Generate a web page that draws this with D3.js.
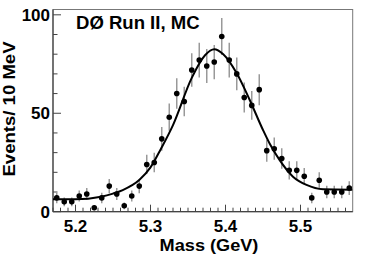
<!DOCTYPE html>
<html>
<head>
<meta charset="utf-8">
<script src="https://cdn.jsdelivr.net/npm/d3@7"></script>
<style>
  html, body { margin: 0; padding: 0; background: #fff; }
  svg { display: block; }
  text { font-family: "Liberation Sans", Arial, Helvetica, sans-serif; font-weight: bold; fill: #000; }
</style>
</head>
<body>
<svg id="chart" width="374" height="256"></svg>
<script>
// Bin centres (GeV) and event counts per 10 MeV
const massBins = [5.175, 5.185, 5.195, 5.205, 5.215, 5.225, 5.235, 5.245, 5.255, 5.265,
                  5.275, 5.285, 5.295, 5.305, 5.315, 5.325, 5.335, 5.345, 5.355, 5.365,
                  5.375, 5.385, 5.395, 5.405, 5.415, 5.425, 5.435, 5.445, 5.455, 5.465,
                  5.475, 5.485, 5.495, 5.505, 5.515, 5.525, 5.535, 5.545, 5.555, 5.565];
const counts = [7, 5, 5, 8, 9, 2, 7, 13, 9, 3,
                8, 13, 24, 25, 37, 48, 60, 56, 72, 77,
                74, 76, 89, 77, 70, 58, 54, 62, 31, 32,
                27, 21, 21, 18, 7, 16, 10, 10, 10, 12];
// Fit curve
const fitMass = [5.170, 5.200, 5.234, 5.250, 5.263, 5.285, 5.300, 5.314, 5.330, 5.355,
                 5.373, 5.385, 5.397, 5.415, 5.432, 5.450, 5.459, 5.472, 5.490, 5.508,
                 5.530, 5.569];
const fitValue = [6.3, 6.3, 7.6, 9.2, 11.0, 16.1, 22.5, 32, 44, 68,
                  79.6, 82.5, 80, 70.3, 57, 41.5, 34.5, 26.3, 17.8, 13.6,
                  11.4, 11.2];
const xMajorTicks = [5.2, 5.3, 5.4, 5.5];
const yMajorTicks = [0, 50, 100];
const title = "DØ Run II, MC";
const xLabel = "Mass (GeV)";
const yLabel = "Events/ 10 MeV";

const svg = d3.select("#chart");
const margin = {left: 53, top: 9.5, right: 21.3, bottom: 44.3};
const W = 374, H = 256;
const x = d3.scaleLinear().domain([5.17, 5.5696]).range([margin.left, W - margin.right]);
const y = d3.scaleLinear().domain([0, 102.7]).range([H - margin.bottom, margin.top]);

// frame
svg.append("rect")
  .attr("x", x.range()[0]).attr("y", y.range()[1])
  .attr("width", x.range()[1] - x.range()[0])
  .attr("height", y.range()[0] - y.range()[1])
  .attr("fill", "none").attr("stroke", "#777").attr("stroke-width", 1);

// axes lines
const axisColor = "#444";
svg.append("line").attr("x1", x.range()[0]).attr("x2", x.range()[0])
  .attr("y1", y.range()[0]).attr("y2", y.range()[1]).attr("stroke", axisColor).attr("stroke-width", 1.2);
svg.append("line").attr("x1", x.range()[0]).attr("x2", x.range()[1])
  .attr("y1", y.range()[0]).attr("y2", y.range()[0]).attr("stroke", axisColor).attr("stroke-width", 1.2);

// y ticks (inward)
const yMinor = d3.range(0, 101, 10);
svg.append("g").selectAll("line").data(yMinor).join("line")
  .attr("x1", x.range()[0]).attr("x2", d => x.range()[0] + (d % 50 === 0 ? 8 : 4.5))
  .attr("y1", d => y(d)).attr("y2", d => y(d))
  .attr("stroke", axisColor).attr("stroke-width", 1);
svg.append("g").selectAll("text").data(yMajorTicks).join("text")
  .attr("x", x.range()[0] - 3).attr("y", d => y(d))
  .attr("text-anchor", "end").attr("dy", "0.36em")
  .attr("font-size", 17).text(d => d);

// x ticks (inward)
const xMinor = d3.range(517, 557).map(d => d / 100);
svg.append("g").selectAll("line").data(xMinor).join("line")
  .attr("x1", d => x(d)).attr("x2", d => x(d))
  .attr("y1", y.range()[0])
  .attr("y2", d => y.range()[0] - (Math.abs(d * 10 - Math.round(d * 10)) < 1e-6 ? 7 : 4))
  .attr("stroke", axisColor).attr("stroke-width", 1);
svg.append("g").selectAll("text").data(xMajorTicks).join("text")
  .attr("x", d => x(d)).attr("y", 231.5)
  .attr("text-anchor", "middle")
  .attr("font-size", 17).text(d => d.toFixed(1));

// axis titles
svg.append("text").attr("transform", "translate(209,251) scale(1.1,1)")
  .attr("text-anchor", "middle").attr("font-size", 16.5).text(xLabel);
svg.append("text").attr("transform", "translate(14.5,109) rotate(-90) scale(1.16,1)")
  .attr("text-anchor", "middle").attr("font-size", 16).text(yLabel);

// title
svg.append("text").attr("transform", "translate(76,28.5) scale(1.06,1)")
  .attr("font-size", 17.5).text(title);

// error bars
const pts = massBins.map((m, i) => ({m, v: counts[i], e: Math.sqrt(counts[i])}));
svg.append("g").selectAll("line").data(pts).join("line")
  .attr("x1", d => x(d.m)).attr("x2", d => x(d.m))
  .attr("y1", d => y(Math.max(0, d.v - d.e))).attr("y2", d => y(d.v + d.e))
  .attr("stroke", "#999").attr("stroke-width", 1.5);

// fit curve
const fit = fitMass.map((m, i) => [m, fitValue[i]]);
svg.append("path").datum(fit)
  .attr("d", d3.line().x(d => x(d[0])).y(d => y(d[1])).curve(d3.curveMonotoneX))
  .attr("fill", "none").attr("stroke", "#000").attr("stroke-width", 2);

// points
svg.append("g").selectAll("circle").data(pts).join("circle")
  .attr("cx", d => x(d.m)).attr("cy", d => y(d.v)).attr("r", 2.8).attr("fill", "#000");
</script>
</body>
</html>
